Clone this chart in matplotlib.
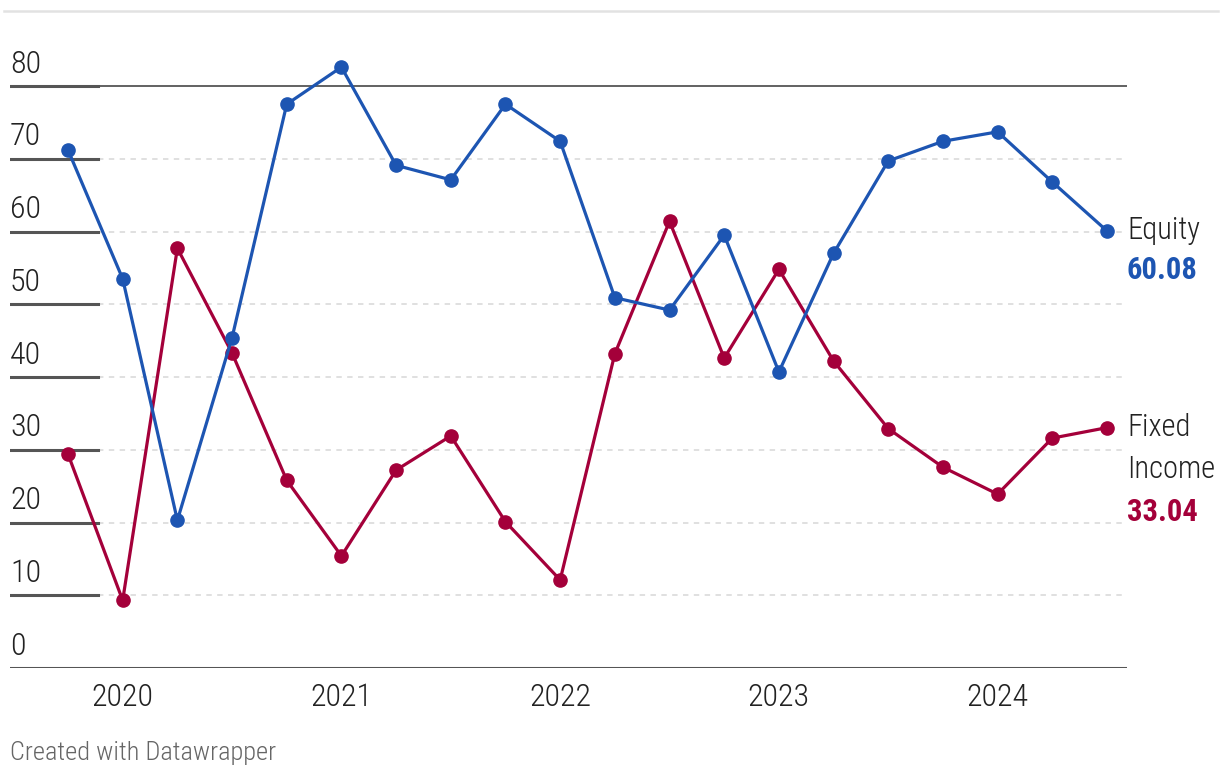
#!/usr/bin/env python3
"""Equity vs fixed income allocation, quarterly line chart."""

import matplotlib
matplotlib.use("Agg")
import matplotlib.pyplot as plt
from matplotlib.lines import Line2D
from matplotlib import transforms

plt.rcParams["font.family"] = ["Roboto Condensed", "DejaVu Sans"]

# quarter positions as decimal years (Q4 2019 .. Q3 2024)
quarters = [2019.75, 2020.0, 2020.25, 2020.5, 2020.75, 2021.0, 2021.25, 2021.5,
            2021.75, 2022.0, 2022.25, 2022.5, 2022.75, 2023.0, 2023.25, 2023.5,
            2023.75, 2024.0, 2024.25, 2024.5]
equity = [71.2, 53.5, 20.3, 45.4, 77.5, 82.6, 69.1, 67.1, 77.5, 72.4,
          50.9, 49.2, 59.5, 40.7, 57.0, 69.7, 72.4, 73.7, 66.8, 60.08]
fixed_income = [29.4, 9.3, 57.7, 43.3, 25.8, 15.4, 27.2, 31.9, 20.1, 12.1,
                43.2, 61.4, 42.6, 54.8, 42.2, 32.9, 27.6, 23.9, 31.6, 33.04]
year_ticks = [2020, 2021, 2022, 2023, 2024]
y_ticks = [0, 10, 20, 30, 40, 50, 60, 70, 80]

BLUE = "#1d55b2"
RED = "#a4003a"
DARK = "#555555"
TEXT = "#222222"
FS = 23
FS_LABEL = 22

W, H = 1220, 782
fig = plt.figure(figsize=(W / 100, H / 100), dpi=100)
ax = fig.add_axes([10 / W, (H - 668) / H, (1127 - 10) / W, (668 - 30) / H])

px_per_year = (1107 - 68) / 4.75
ax.set_xlim(2019.75 - 58 / px_per_year, 2024.5 + 20 / px_per_year)
ax.set_ylim(0, 80 * (668 - 30) / (668 - 86))

ylab = transforms.blended_transform_factory(ax.transAxes, ax.transData)
short = (98 - 10) / (1127 - 10)
for v in y_ticks:
    if v == 0:
        ax.axhline(v, color=DARK, lw=2.2, zorder=1)
    elif v == 80:
        ax.axhline(v, color=DARK, lw=1.3, zorder=1)
        ax.axhline(v, xmax=short, color=DARK, lw=2.2, zorder=1)
    else:
        ax.axhline(v, xmin=short, color="#dddddd", lw=1.3, ls=(0, (3, 3)), zorder=1)
        ax.axhline(v, xmax=short, color=DARK, lw=2.2, zorder=1)
    ax.text(0, v + 1.0, str(v), transform=ylab, fontsize=FS, color=TEXT,
            fontweight="light", ha="left", va="bottom")

for vals, color in ((fixed_income, RED), (equity, BLUE)):
    ax.plot(quarters, vals, color=color, lw=2.3, marker="o", ms=9.5, zorder=3,
            solid_joinstyle="round")

for s in ax.spines.values():
    s.set_visible(False)
ax.set_yticks([])
ax.set_xticks(year_ticks)
ax.set_xticklabels([str(y) for y in year_ticks], fontsize=FS, color=TEXT, fontweight="light")
ax.tick_params(axis="x", length=0, pad=11)

# direct labels at the end of each line
lab = transforms.blended_transform_factory(ax.transAxes, ax.transData)
kw = dict(transform=lab, fontsize=FS_LABEL, ha="left", va="center", clip_on=False)
ax.text(1.0, equity[-1], "Equity", color=TEXT, fontweight="light", **kw)
ax.text(1.0, equity[-1] - 5.4, f"{equity[-1]:.2f}", color=BLUE, fontweight="bold", **kw)
ax.text(1.0, fixed_income[-1], "Fixed", color=TEXT, fontweight="light", **kw)
ax.text(1.0, fixed_income[-1] - 5.8, "Income", color=TEXT, fontweight="light", **kw)
ax.text(1.0, fixed_income[-1] - 11.6, f"{fixed_income[-1]:.2f}", color=RED, fontweight="bold", **kw)

fig.add_artist(Line2D([4 / W, 1218 / W], [(H - 11) / H] * 2, color="#e2e2e2", lw=1.8))
fig.text(10 / W, (H - 753) / H, "Created with Datawrapper", fontsize=19, color="#666666",
         fontweight="light", ha="left", va="center")

fig.savefig("out.png", dpi=100)
